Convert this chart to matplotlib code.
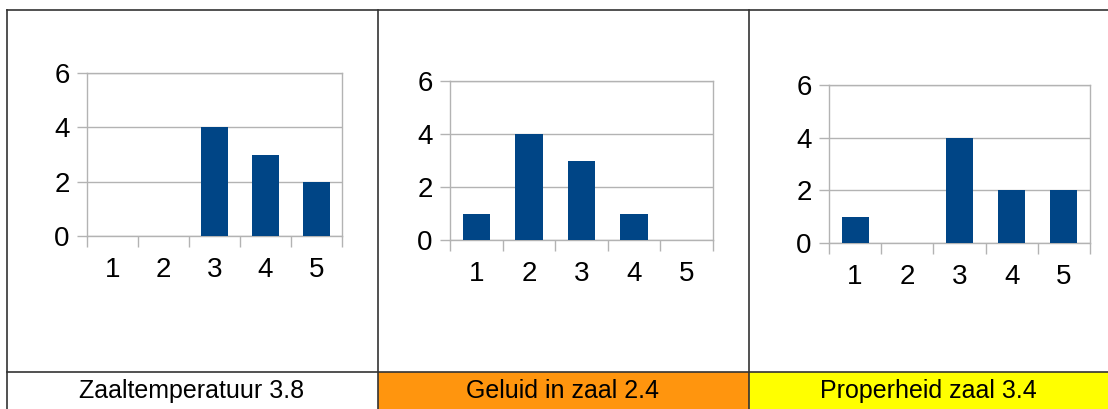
import matplotlib.pyplot as plt
from matplotlib.patches import Rectangle
from matplotlib.lines import Line2D

plt.rcParams['font.family'] = ['Liberation Sans', 'DejaVu Sans']

W, H = 1108, 409

scores = [1, 2, 3, 4, 5]
zaaltemperatuur = [0, 0, 4, 3, 2]
geluid = [1, 4, 3, 1, 0]
properheid = [1, 0, 4, 2, 2]

titles = ["Zaaltemperatuur 3.8", "Geluid in zaal 2.4", "Properheid zaal 3.4"]
cellColors = ["white", "#ff950e", "#ffff00"]
series = [zaaltemperatuur, geluid, properheid]

# pixel boxes of the plot areas: left, right, top, bottom
axBoxes = [(87, 342, 73, 236), (450, 713, 81, 240), (829, 1090, 85, 243)]
colEdges = [6.5, 377.5, 748.5, 1108]
rowLine = 371.5
topLine = 9.5

fig = plt.figure(figsize=(W / 100, H / 100), dpi=100)

def fx(px):
    return px / W

def fy(py):
    return 1 - py / H

# bottom row cells
for i in range(3):
    fig.add_artist(Rectangle((fx(colEdges[i]), 0), fx(colEdges[i + 1] - colEdges[i]), fy(rowLine),
                             transform=fig.transFigure, facecolor=cellColors[i], edgecolor='none', zorder=0))
    center = (colEdges[i] + colEdges[i + 1]) / 2
    fig.text(fx(center), fy(391), titles[i], ha='center', va='center', fontsize=18, color='black')

# table lines
lineColor = '#333333'
fig.add_artist(Line2D([fx(colEdges[0]), 1], [fy(topLine), fy(topLine)], color=lineColor, lw=1.2))
fig.add_artist(Line2D([fx(colEdges[0]), 1], [fy(rowLine), fy(rowLine)], color=lineColor, lw=1.2))
for x in colEdges[:3]:
    fig.add_artist(Line2D([fx(x), fx(x)], [0, fy(topLine)], color=lineColor, lw=1.2))

gridColor = '#b3b3b3'
for values, box in zip(series, axBoxes):
    left, right, top, bottom = box
    ax = fig.add_axes([fx(left), fy(bottom), fx(right - left), (bottom - top) / H])
    ax.bar(scores, values, width=0.52, color='#004586', zorder=3)
    ax.set_xlim(0.5, 5.5)
    ax.set_ylim(0, 6)
    ax.set_yticks([0, 2, 4, 6])
    ax.yaxis.grid(True, color=gridColor, lw=1)
    ax.set_axisbelow(True)
    for s in ax.spines.values():
        s.set_color(gridColor)
        s.set_linewidth(1)
    ax.tick_params(axis='y', length=7.5, width=1, color=gridColor, pad=5, labelsize=20)
    ax.set_xticks([0.5, 1.5, 2.5, 3.5, 4.5, 5.5])
    ax.set_xticklabels([])
    ax.tick_params(axis='x', which='major', length=8, width=1, color=gridColor)
    ax.set_xticks(scores, minor=True)
    ax.set_xticklabels([str(s) for s in scores], minor=True)
    ax.tick_params(axis='x', which='minor', length=0, pad=15, labelsize=20)

fig.savefig("out.png", dpi=100)
